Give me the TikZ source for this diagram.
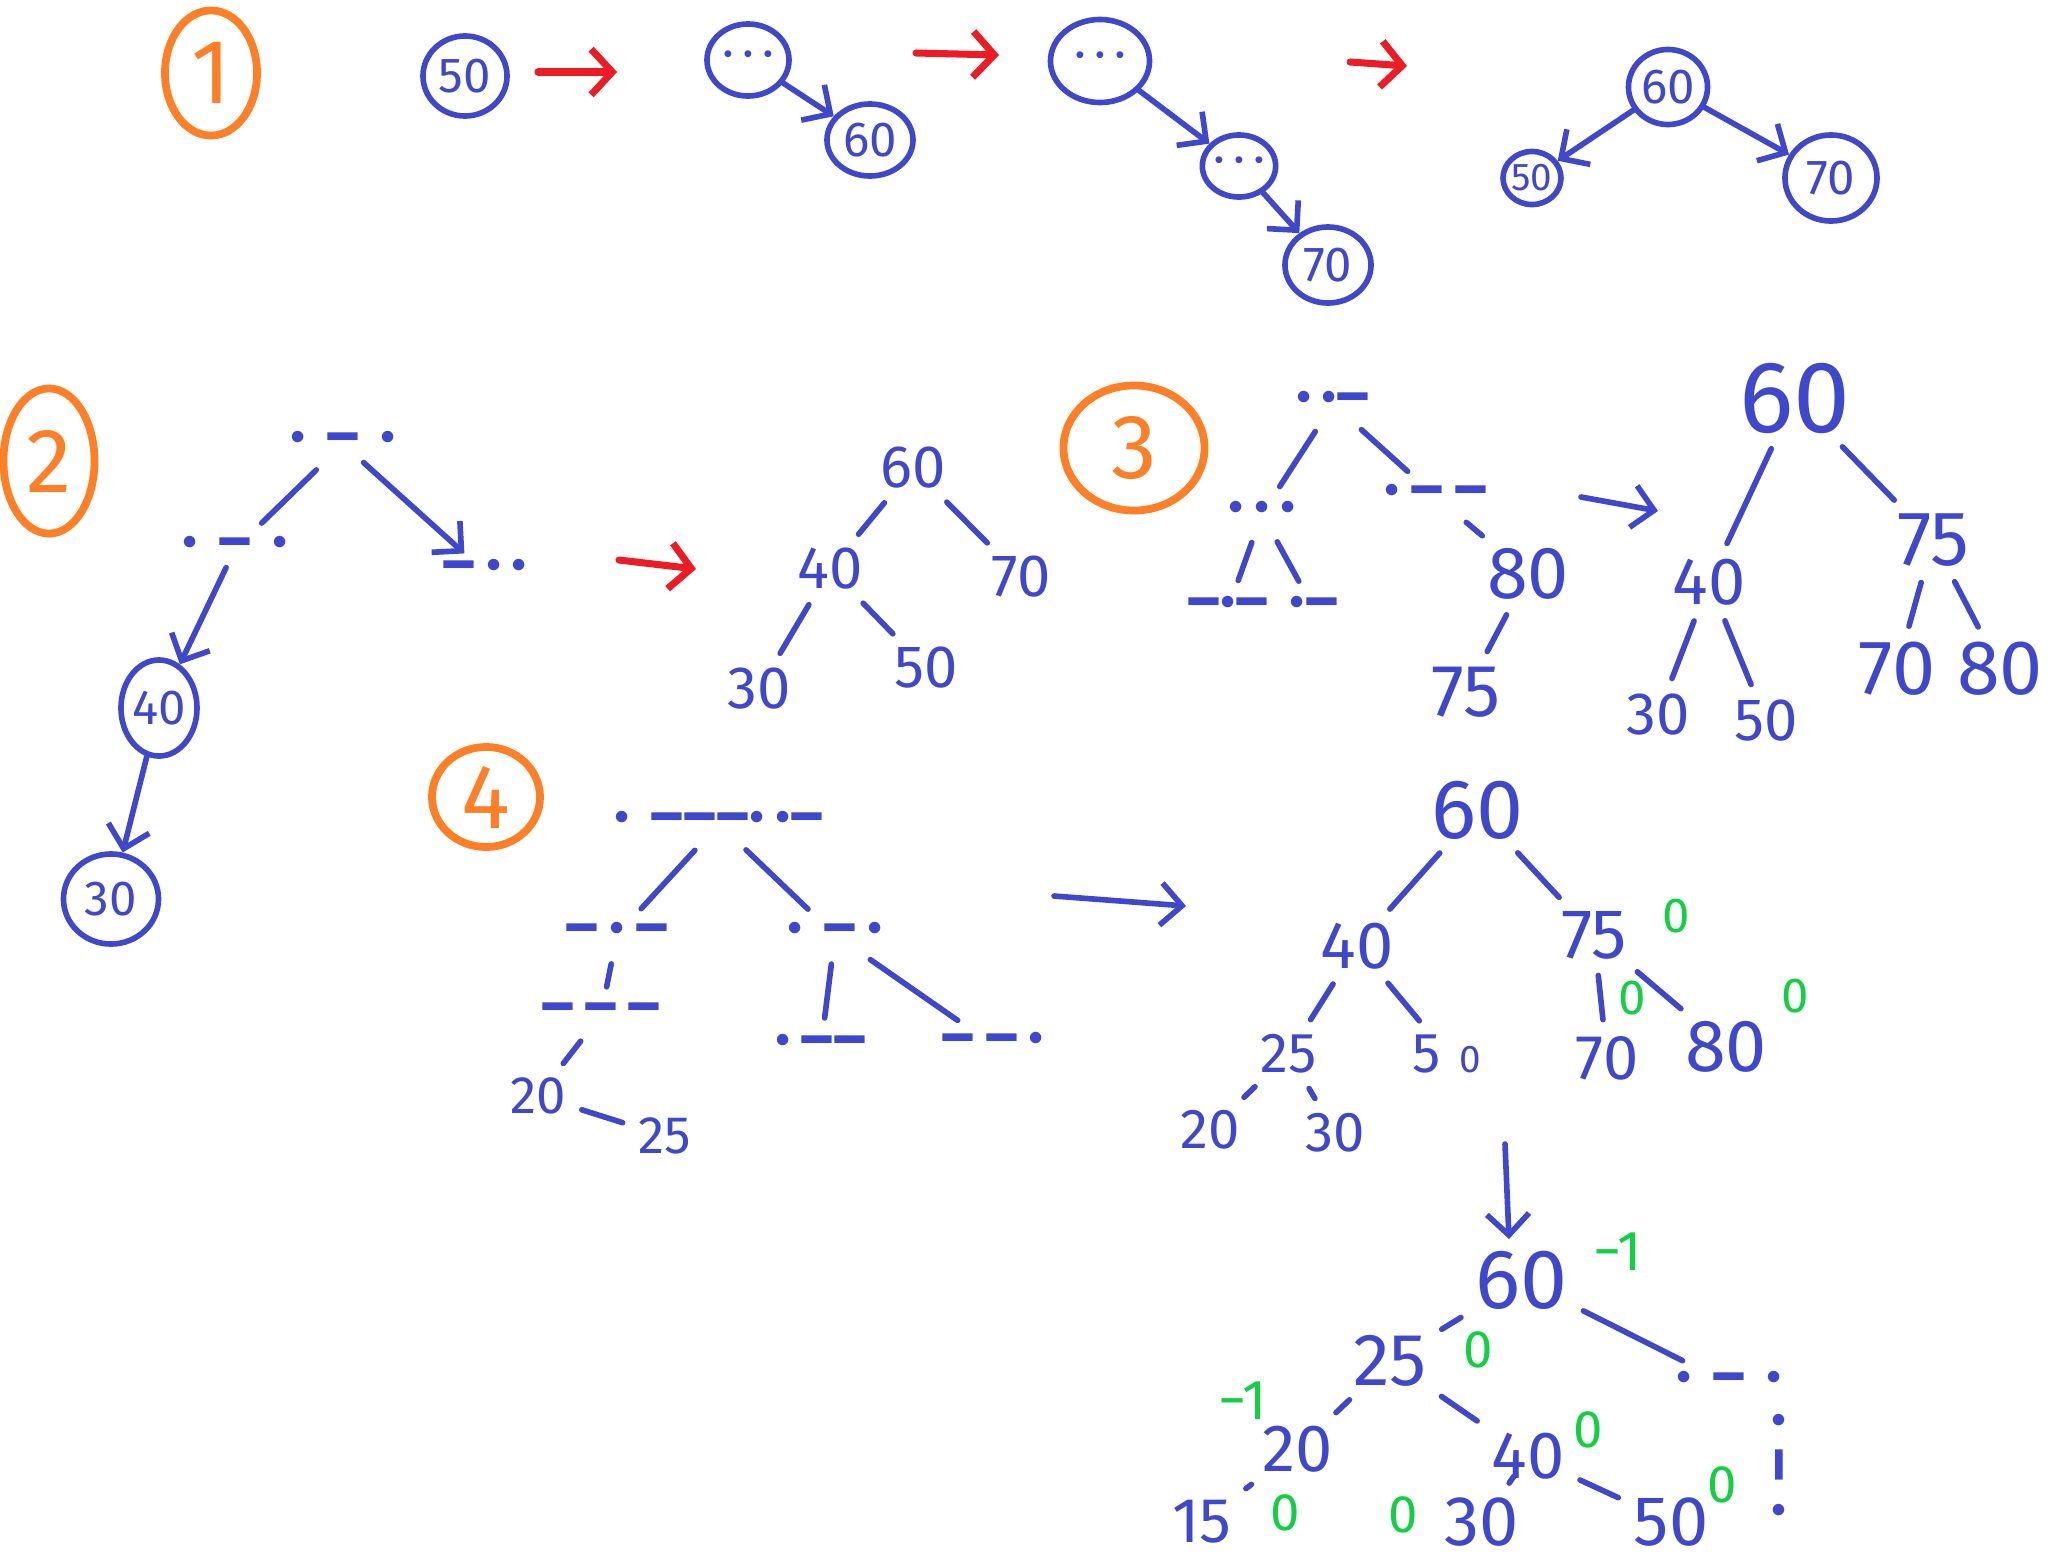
\documentclass[tikz,border=0pt]{standalone}
\usepackage{fontspec}
\setmainfont{Fira Sans}
\usepackage{tikz}
\usetikzlibrary{arrows.meta,shapes.geometric}

\definecolor{penblue}{HTML}{3F48CC}
\definecolor{penorange}{HTML}{FF7F27}
\definecolor{penred}{HTML}{ED1C24}
\definecolor{pengreen}{HTML}{12CF44}

\begin{document}
\begin{tikzpicture}[x=0.01cm,y=-0.01cm,
  fs/.style={font={\fontsize{#1}{#1}\selectfont}},
  pen/.style={draw=penblue,line width=1.6pt,line cap=round,line join=round},
  edge/.style={pen,shorten <=3pt,shorten >=3pt},
  arr/.style={pen,-{Straight Barb[length=6pt,width=12pt]}},
  redarr/.style={draw=penred,line width=2pt,line cap=round,-{Straight Barb[length=6pt,width=13pt]}},
  num/.style={text=penblue,inner sep=1.5pt,fs=#1},
  ring/.style={ellipse,draw=penblue,line width=1.6pt,text=penblue,inner sep=0pt,fs=14},
  part/.style={ellipse,draw=penorange,line width=2.2pt,text=penorange,inner sep=0pt,fs=26},
  gap/.style={text=penblue,inner sep=1.5pt,font={\fontsize{18}{18}\selectfont\bfseries}},
  bal/.style={text=pengreen,inner sep=0pt,fs=#1}]
\useasboundingbox (0,0) rectangle (2066,1560);

% 1
\node[part,minimum width=0.92cm,minimum height=1.25cm] (one) at (211,73) {1};
\node[ring,minimum width=0.84cm,minimum height=0.8cm] (a50) at (465,76) {50};
\node[ring,minimum width=0.82cm,minimum height=0.72cm] (a1) at (748,60) {·\,·\,·};
\node[ring,minimum width=0.86cm,minimum height=0.72cm] (a60) at (870,140) {60};
\node[ring,minimum width=0.99cm,minimum height=0.83cm] (b1) at (1100,61) {·\,·\,·};
\node[ring,minimum width=0.66cm,minimum height=0.62cm] (b2) at (1239,166) {·\,·\,·};
\node[ring,minimum width=0.86cm,minimum height=0.76cm] (b70) at (1328,265) {70};
\node[ring,minimum width=0.79cm,minimum height=0.75cm] (c60) at (1668,87) {60};
\node[ring,minimum width=0.57cm,minimum height=0.53cm,fs=11] (c50) at (1532,178) {50};
\node[ring,minimum width=0.92cm,minimum height=0.86cm] (c70) at (1831,178) {70};
\draw[arr] (a1) -- (a60);
\draw[arr] (b1) -- (b2);
\draw[arr] (b2) -- (b70);
\draw[arr] (c60) -- (c50);
\draw[arr] (c60) -- (c70);

\coordinate (rs1) at (538,72);   \coordinate (re1) at (617,72);
\coordinate (rs2) at (916,53);   \coordinate (re2) at (999,55);
\coordinate (rs3) at (1350,62);  \coordinate (re3) at (1407,66);
\coordinate (rs4) at (619,560);  \coordinate (re4) at (696,569);
\foreach \i in {1,...,4}
  \draw[redarr] (rs\i) -- (re\i);

% 2
\node[part,minimum width=0.91cm,minimum height=1.45cm] (two) at (49,461) {2};
\node[gap] (p2t) at (343,444) {·\,\,–\,\,·};
\node[gap] (p2l) at (235,549) {·\,\,–\,\,·};
\node[gap] (p2r) at (485,572) {–\,·\,·};
\node[ring,minimum width=0.76cm,minimum height=0.96cm] (d40) at (159,708) {40};
\node[ring,minimum width=0.95cm,minimum height=0.9cm] (d30) at (111,899) {30};
\draw[edge] (p2t) -- (p2l);
\draw[arr] (p2t) -- (p2r);
\draw[arr] (p2l) -- (d40);
\draw[arr] (d40) -- (d30);

\node[num=17] (e60) at (913,468) {60};
\node[num=17] (e40) at (830,569) {40};
\node[num=17] (e70) at (1021,577) {70};
\node[num=17] (e30) at (759,689) {30};
\node[num=17] (e50) at (926,668) {50};
\draw[edge] (e60) -- (e40);
\draw[edge] (e60) -- (e70);
\draw[edge] (e40) -- (e30);
\draw[edge] (e40) -- (e50);

% 3
\node[part,minimum width=1.41cm,minimum height=1.25cm] (three) at (1134,448) {3};
\node[gap] (f0) at (1333,404) {·\,·–};
\node[gap] (fl) at (1262,514) {·\,·\,·};
\node[gap] (fr) at (1436,497) {·\,–\,–};
\node[gap] (fll) at (1228,609) {–·–};
\node[gap] (flr) at (1314,609) {·–};
\node[num=21] (f80) at (1528,574) {80};
\node[num=21] (f75) at (1466,692) {75};
\draw[edge] (f0) -- (fl);
\draw[edge] (f0) -- (fr);
\draw[edge] (fl) -- (fll);
\draw[edge] (fl) -- (flr);
\draw[edge] (fr) -- (f80);
\draw[edge] (f80) -- (f75);

\coordinate (bs1) at (1581,497); \coordinate (be1) at (1658,511);
\draw[arr] (bs1) -- (be1);

\node[num=29] (g60) at (1795,398) {60};
\node[num=19] (g40) at (1709,582) {40};
\node[num=22] (g75) at (1933,540) {75};
\node[num=17] (g30) at (1658,715) {30};
\node[num=17] (g50) at (1766,721) {50};
\node[num=22] (g70) at (1897,669) {70};
\node[num=22] (g80) at (2000,669) {80};
\draw[edge] (g60) -- (g40);
\draw[edge] (g60) -- (g75);
\draw[edge] (g40) -- (g30);
\draw[edge] (g40) -- (g50);
\draw[edge] (g75) -- (g70);
\draw[edge] (g75) -- (g80);

% 4
\node[part,minimum width=1.08cm,minimum height=1.0cm] (four) at (486,797) {4};
\node[gap] (h0) at (719,824) {·\,\,–––·\,·–};
\node[gap] (hl) at (617,935) {–\,·\,–};
\node[gap] (hr) at (835,935) {·\,\,–\,·};
\node[gap] (hll) at (601,1015) {–\,–\,–};
\node[gap] (hrl) at (821,1047) {·\,––};
\node[gap] (hrr) at (993,1045) {–\,–\,·};
\node[num=15] (h20) at (538,1096) {20};
\node[num=15] (h25) at (665,1136) {25};
\draw[edge] (h0) -- (hl);
\draw[edge] (h0) -- (hr);
\draw[edge] (hl) -- (hll);
\draw[edge] (hll) -- (h20);
\draw[edge] (h20) -- (h25);
\draw[edge] (hr) -- (hrl);
\draw[edge] (hr) -- (hrr);

\coordinate (bs2) at (1054,896); \coordinate (be2) at (1186,906);
\draw[arr] (bs2) -- (be2);

\node[num=24] (k60) at (1478,810) {60};
\node[num=19] (k40) at (1357,946) {40};
\node[num=20] (k75) at (1594,935) {75};
\node[num=16] (k25) at (1289,1054) {25};
\node[num=16] (k50) at (1447,1054) {5\,\,{\fontsize{11}{11}\selectfont 0}};
\node[num=18] (k70) at (1607,1058) {70};
\node[num=21] (k80) at (1726,1047) {80};
\node[num=16] (k20) at (1210,1130) {20};
\node[num=16] (k30) at (1335,1133) {30};
\draw[edge] (k60) -- (k40);
\draw[edge] (k60) -- (k75);
\draw[edge] (k40) -- (k25);
\draw[edge] (k40) -- (k50);
\draw[edge] (k75) -- (k70);
\draw[edge] (k75) -- (k80);
\draw[edge] (k25) -- (k20);
\draw[edge] (k25) -- (k30);

\foreach \p [count=\i] in {(1676,916),(1632,998),(1795,996)}
  \node[bal=14] (kz\i) at \p {0};

\coordinate (bs3) at (1505,1144); \coordinate (be3) at (1509,1239);
\draw[arr] (bs3) -- (be3);

\node[num=24] (m60) at (1522,1280) {60};
\node[num=21] (m25) at (1390,1361) {25};
\node[num=19] (m20) at (1298,1449) {20};
\node[num=19] (m40) at (1528,1456) {40};
\node[num=18] (m15) at (1202,1522) {15};
\node[num=20] (m30) at (1482,1522) {30};
\node[num=20] (m50) at (1671,1522) {50};
\node[gap] (mr) at (1729,1384) {·\,\,–\,\,·};
\node[gap,rotate=-90] (mrv) at (1772,1465) {·\,\,–\,\,·};
\draw[edge] (m60) -- (m25);
\draw[edge] (m60) -- (mr);
\draw[edge] (m25) -- (m20);
\draw[edge] (m25) -- (m40);
\draw[edge] (m20) -- (m15);
\draw[edge] (m40) -- (m30);
\draw[edge] (m40) -- (m50);

\node[bal=16] (mb1) at (1618,1252) {−1};
\node[bal=16] (mb2) at (1243,1401) {−1};
\foreach \p [count=\i] in {(1478,1350),(1588,1430),(1285,1513),(1403,1515),(1722,1485)}
  \node[bal=15] (mz\i) at \p {0};
\end{tikzpicture}
\end{document}
